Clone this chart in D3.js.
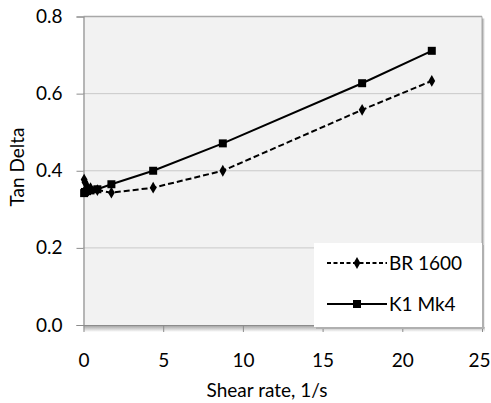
<!DOCTYPE html>
<html><head><meta charset="utf-8">
<script src="https://cdn.jsdelivr.net/npm/d3@7/dist/d3.min.js"></script>
<style>body{margin:0;background:#fff;}svg{display:block;font-family:Lato,"Open Sans",sans-serif;}</style>
</head><body>
<svg id="c" width="491" height="403"></svg>
<script>
const shearRate = [0.04, 0.09, 0.22, 0.44, 0.87, 1.75, 4.37, 8.74, 17.48, 21.85];
const br1600 = [0.377, 0.37, 0.36, 0.355, 0.35, 0.343, 0.356, 0.40, 0.558, 0.633];
const k1mk4 = [0.342, 0.345, 0.347, 0.349, 0.352, 0.365, 0.40, 0.471, 0.627, 0.711];
const xTicks = [0, 5, 10, 15, 20, 25];
const yTicks = [0.0, 0.2, 0.4, 0.6, 0.8];
const seriesNames = ["BR 1600", "K1 Mk4"];

const svg = d3.select("#c");
const L = 83.5, R = 482, T = 16.5, B = 325;
const FS = "19px";
const x = d3.scaleLinear().domain([0, 25]).range([L, R]);
const y = d3.scaleLinear().domain([0, 0.8]).range([B, T]);

const defs = svg.append("defs");
const gb = defs.append("linearGradient").attr("id","sb").attr("x1",0).attr("y1",0).attr("x2",0).attr("y2",1);
gb.append("stop").attr("offset",0).attr("stop-color","#9a9a9a");
gb.append("stop").attr("offset",1).attr("stop-color","#ffffff");
const gr = defs.append("linearGradient").attr("id","sr").attr("x1",0).attr("y1",0).attr("x2",1).attr("y2",0);
gr.append("stop").attr("offset",0).attr("stop-color","#9a9a9a");
gr.append("stop").attr("offset",1).attr("stop-color","#ffffff");

// shadows
svg.append("rect").attr("x", L).attr("y", B).attr("width", R - L + 3).attr("height", 7).attr("fill","url(#sb)");
svg.append("rect").attr("x", R).attr("y", T + 2).attr("width", 3).attr("height", B - T).attr("fill","url(#sr)");

// plot bg
svg.append("rect").attr("x", L).attr("y", T).attr("width", R - L).attr("height", B - T).attr("fill","#f2f2f2");

// gridlines
svg.append("g").selectAll("line").data(yTicks.filter(d => d > 0 && d < 0.8)).join("line")
  .attr("x1", L).attr("x2", R).attr("y1", d => y(d)).attr("y2", d => y(d))
  .attr("stroke","#a0a0a0").attr("stroke-width",1).attr("stroke-dasharray","1,1");
// top & right border
svg.append("line").attr("x1",L).attr("x2",R).attr("y1",T).attr("y2",T).attr("stroke","#a8a8a8").attr("stroke-width",1.5);
svg.append("line").attr("x1",R).attr("x2",R).attr("y1",T).attr("y2",B).attr("stroke","#a8a8a8").attr("stroke-width",1);

// axes
const yAxis = d3.axisLeft(y).tickValues(yTicks).tickFormat(d3.format(".1f")).tickSize(7).tickPadding(14);
const gy = svg.append("g").attr("transform",`translate(${L},0)`).call(yAxis);
const xAxis = d3.axisBottom(x).tickValues(xTicks).tickFormat(d3.format("d")).tickSize(7).tickPadding(22);
const gx = svg.append("g").attr("transform",`translate(0,${B})`).call(xAxis);
[gy, gx].forEach(g => {
  g.select(".domain").attr("stroke","#8c8c8c").attr("stroke-width",1.2);
  g.selectAll(".tick line").attr("stroke","#8c8c8c");
  g.selectAll("text").attr("fill","#000").style("font-size",FS).style("font-family","Lato,'Open Sans',sans-serif");
});
gx.select(".domain").attr("d", `M${L},0.5H${R}`);
gx.selectAll(".tick text").filter(d => d === 25).attr("text-anchor","end").attr("x", 8);

// axis titles
svg.append("text").attr("x", 267).attr("y", 397).attr("text-anchor","middle").style("font-size",FS).text("Shear rate, 1/s");
svg.append("text").attr("transform","translate(24,167) rotate(-90)").attr("text-anchor","middle").style("font-size",FS).text("Tan Delta");

// lines
const pts = vals => shearRate.map((s,i) => [s, vals[i]]);
const line = d3.line().x(d => x(d[0])).y(d => y(d[1]));
svg.append("path").datum(pts(br1600)).attr("d", line).attr("fill","none").attr("stroke","#000").attr("stroke-width",2).attr("stroke-dasharray","6,3");
svg.append("path").datum(pts(k1mk4)).attr("d", line).attr("fill","none").attr("stroke","#000").attr("stroke-width",2);

const diamond = d3.symbol().type(d3.symbolDiamond).size(40);
const square = d3.symbol().type(d3.symbolSquare).size(64);
svg.append("g").selectAll("path").data(pts(br1600)).join("path")
  .attr("transform", d => `translate(${x(d[0])},${y(d[1])})`).attr("d", diamond).attr("fill","#000");
svg.append("g").selectAll("path").data(pts(k1mk4)).join("path")
  .attr("transform", d => `translate(${x(d[0])},${y(d[1])})`).attr("d", square).attr("fill","#000");

// legend
const lx = 314, ly = 243, lw = 168, lh = 84;
svg.append("rect").attr("x", lx + 2).attr("y", ly + 2).attr("width", lw).attr("height", lh).attr("fill","#b0b0b0");
svg.append("rect").attr("x", lx).attr("y", ly).attr("width", lw).attr("height", lh).attr("fill","#fff");
const legY = [263, 304];
seriesNames.forEach((name, i) => {
  const yy = legY[i];
  svg.append("line").attr("x1", 327).attr("x2", 387).attr("y1", yy).attr("y2", yy)
    .attr("stroke","#000").attr("stroke-width",2).attr("stroke-dasharray", i === 0 ? "4,2.5" : null);
  svg.append("path").attr("transform",`translate(357,${yy})`).attr("d", i === 0 ? diamond : square).attr("fill","#000");
  svg.append("text").attr("x", 389).attr("y", yy + 7).style("font-size",FS).text(name);
});
</script>
</body></html>
